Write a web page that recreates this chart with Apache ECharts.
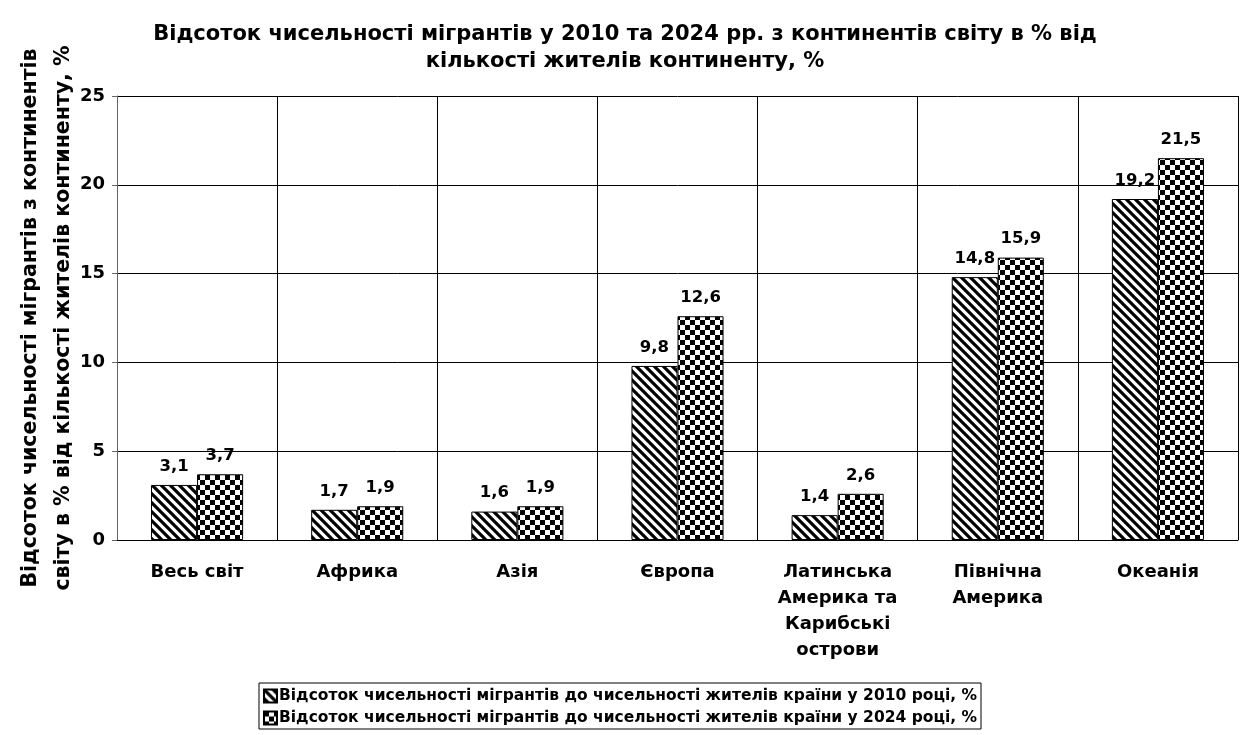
<!DOCTYPE html>
<html>
<head>
<meta charset="utf-8">
<script src="https://cdn.jsdelivr.net/npm/echarts@6/dist/echarts.min.js"></script>
<style>
  html, body { margin: 0; padding: 0; background: #fff; }
  #migrants { width: 1240px; height: 735px; }
</style>
</head>
<body>
<div id="migrants"></div>
<script>
var continents = ['Весь світ', 'Африка', 'Азія', 'Європа', 'Латинська\nАмерика та\nКарибські\nострови', 'Північна\nАмерика', 'Океанія'];
var share2010 = [3.1, 1.7, 1.6, 9.8, 1.4, 14.8, 19.2];
var share2024 = [3.7, 1.9, 1.9, 12.6, 2.6, 15.9, 21.5];
var name2010 = 'Відсоток чисельності мігрантів до чисельності жителів країни у 2010 році, %';
var name2024 = 'Відсоток чисельності мігрантів до чисельності жителів країни у 2024 році, %';

// hatch: black stripes "\\"
function stripes() {
    var c = document.createElement('canvas');
    c.width = 9; c.height = 9;
    var g = c.getContext('2d');
    g.fillStyle = '#fff';
    g.fillRect(0, 0, 9, 9);
    g.strokeStyle = '#000';
    g.lineWidth = 3.2;
    g.beginPath();
    g.moveTo(-2, -2); g.lineTo(11, 11);
    g.moveTo(-11, -2); g.lineTo(2, 11);
    g.moveTo(7, -2); g.lineTo(20, 11);
    g.stroke();
    return c;
}

function checker() {
    var c = document.createElement('canvas');
    c.width = 10; c.height = 10;
    var g = c.getContext('2d');
    g.fillStyle = '#fff';
    g.fillRect(0, 0, 10, 10);
    g.fillStyle = '#000';
    g.fillRect(0, 0, 5, 5);
    g.fillRect(5, 5, 5, 5);
    return c;
}

var font = 'DejaVu Sans, Verdana, sans-serif';
function comma(p) { return String(p.value).replace('.', ','); }

try {
    var chart = echarts.init(document.getElementById('migrants'));
    chart.setOption({
        animation: false,
        title: {
            text: 'Відсоток чисельності мігрантів у 2010 та 2024 рр. з континентів світу в % від\nкількості жителів континенту, %',
            left: 620, textAlign: 'center', top: 16,
            textStyle: { fontFamily: font, fontSize: 21, fontWeight: 'bold', color: '#000', lineHeight: 27 }
        },
        legend: {
            orient: 'vertical', left: 'center', bottom: 6,
            borderColor: '#000', borderWidth: 1, padding: [5, 4, 3, 4],
            itemGap: 6, itemWidth: 13, itemHeight: 13, icon: 'rect',
            textStyle: { fontFamily: font, fontSize: 15.5, fontWeight: 'bold', color: '#000', padding: [0, 0, 0, -3] },
            data: [name2010, name2024]
        },
        grid: { left: 117, right: 2, top: 96, bottom: 195, outerBoundsMode: 'none' },
        xAxis: {
            type: 'category', data: continents,
            axisLine: { lineStyle: { color: '#000' } },
            axisTick: { show: false },
            splitLine: { show: true, lineStyle: { color: '#000' } },
            axisLabel: { fontFamily: font, fontSize: 18, fontWeight: 'bold', color: '#000', margin: 19, lineHeight: 26, interval: 0 }
        },
        yAxis: {
            type: 'value', min: 0, max: 25, interval: 5,
            name: 'Відсоток чисельності мігрантів з континентів\nсвіту в % від кількості жителів континенту, %',
            nameLocation: 'middle', nameGap: 37, nameMoveOverlap: false,
            nameTextStyle: { fontFamily: font, fontSize: 20.5, fontWeight: 'bold', color: '#000', lineHeight: 33 },
            axisLine: { show: true, lineStyle: { color: '#666' } },
            axisTick: { show: true, length: 5, lineStyle: { color: '#666' } },
            splitLine: { lineStyle: { color: '#000' } },
            axisLabel: { fontFamily: font, fontSize: 18, fontWeight: 'bold', color: '#000', margin: 12 }
        },
        series: [
            {
                name: name2010, type: 'bar', data: share2010,
                barGap: 0, barCategoryGap: '42.5%',
                itemStyle: { color: { image: stripes(), repeat: 'repeat' }, borderColor: '#000', borderWidth: 1 },
                label: { show: true, position: 'top', distance: 10, formatter: comma, fontFamily: font, fontSize: 16.5, fontWeight: 'bold', color: '#000' }
            },
            {
                name: name2024, type: 'bar', data: share2024,
                itemStyle: { color: { image: checker(), repeat: 'repeat' }, borderColor: '#000', borderWidth: 1 },
                label: { show: true, position: 'top', distance: 10, formatter: comma, fontFamily: font, fontSize: 16.5, fontWeight: 'bold', color: '#000' }
            }
        ]
    });
} catch (e) {
    console.log(e);
}
</script>
</body>
</html>
